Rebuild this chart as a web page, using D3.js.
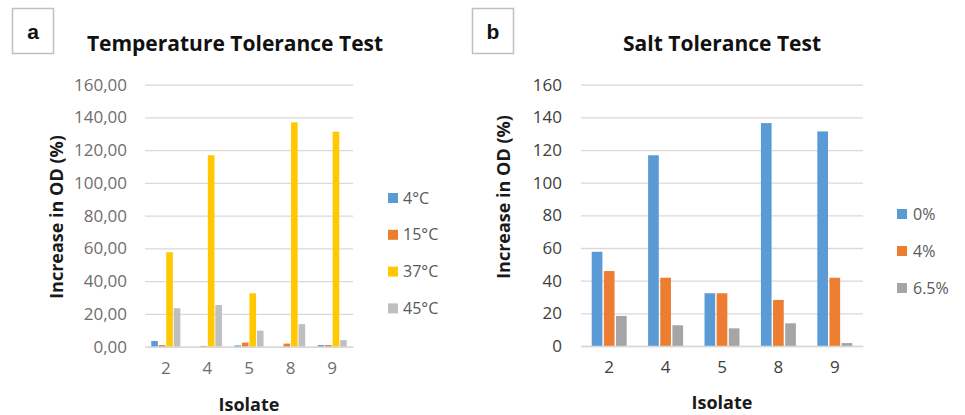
<!DOCTYPE html>
<html>
<head>
<meta charset="utf-8">
<script src="https://cdn.jsdelivr.net/npm/d3@7"></script>
<style>
  body { margin: 0; background: #fff; }
  svg { font-family: "Open Sans", sans-serif; }
</style>
</head>
<body>
<svg width="965" height="415"></svg>
<script>
// categories shared by both panels
let isolates = ["2", "4", "5", "8", "9"];

// panel a: temperature tolerance
let tempSeries = ["4°C", "15°C", "37°C", "45°C"];
let temp4 = [3.5, 0, 0.8, 0, 1];
let temp15 = [1, 0.5, 2.5, 1.9, 1];
let temp37 = [57.7, 116.9, 32.6, 137, 131.3];
let temp45 = [23.5, 25.5, 9.8, 13.8, 4];

// panel b: salt tolerance
let saltSeries = ["0%", "4%", "6.5%"];
let salt0 = [57.7, 116.8, 32.3, 136.5, 131.4];
let salt4 = [45.9, 41.8, 32.3, 28.2, 41.8];
let salt65 = [18.4, 12.7, 10.8, 13.9, 1.8];

let yTicks = [0, 20, 40, 60, 80, 100, 120, 140, 160];

let svg = d3.select("svg");

function drawPanel(opt) {
  let x = d3.scaleBand()
    .domain(isolates)
    .range([opt.left, opt.right])
    .paddingInner(opt.pad)
    .paddingOuter(opt.pad / 2);

  let xs = d3.scaleBand()
    .domain(opt.series)
    .range([0, x.bandwidth()])
    .paddingInner(0.12);

  let y = d3.scaleLinear()
    .domain([0, 160])
    .range([opt.bottom, opt.top]);

  let g = svg.append("g");

  // gridlines
  g.append("g")
    .call(d3.axisLeft(y).tickValues(yTicks).tickSize(-(opt.right - opt.left)).tickFormat(""))
    .attr("transform", "translate(" + opt.left + ",0)")
    .call(a => a.select(".domain").remove())
    .selectAll("line")
      .attr("stroke", "#d9d9d9")
      .attr("stroke-width", 1.3);

  // y tick labels
  g.append("g")
    .attr("transform", "translate(" + opt.left + ",0)")
    .call(d3.axisLeft(y).tickValues(yTicks).tickSize(0).tickPadding(opt.tickPad).tickFormat(opt.fmt))
    .call(a => a.select(".domain").remove())
    .selectAll("text")
      .attr("font-family", "Open Sans")
      .attr("font-size", 17)
      .attr("fill", opt.tickColor);

  // bars
  opt.values.forEach(function(vals, si) {
    g.append("g")
      .selectAll("rect")
      .data(vals)
      .enter().append("rect")
        .attr("x", (d, i) => x(isolates[i]) + xs(opt.series[si]))
        .attr("y", d => y(d))
        .attr("width", xs.bandwidth())
        .attr("height", d => y(0) - y(d))
        .attr("fill", opt.colors[si]);
  });

  // x axis
  g.append("g")
    .attr("transform", "translate(0," + opt.bottom + ")")
    .call(d3.axisBottom(x).tickSize(0).tickPadding(opt.xPad))
    .call(a => a.select(".domain").attr("stroke", "#d9d9d9").attr("stroke-width", 1.5))
    .selectAll("text")
      .attr("font-family", "Open Sans")
      .attr("font-size", 17)
      .attr("fill", opt.tickColor);

  // axis titles
  g.append("text")
    .attr("x", (opt.left + opt.right) / 2)
    .attr("y", opt.xTitleY)
    .attr("text-anchor", "middle")
    .attr("font-weight", "bold")
    .attr("font-size", 18)
    .attr("fill", "#1a1a1a")
    .text("Isolate");

  g.append("text")
    .attr("transform", "translate(" + opt.yTitleX + "," + opt.yTitleY + ") rotate(-90)")
    .attr("text-anchor", "middle")
    .attr("font-weight", "bold")
    .attr("font-size", 18)
    .attr("fill", "#1a1a1a")
    .text("Increase in OD (%)");

  // chart title
  g.append("text")
    .attr("x", opt.titleX)
    .attr("y", 51)
    .attr("text-anchor", "middle")
    .attr("font-weight", "bold")
    .attr("font-size", 21)
    .attr("fill", "#111")
    .text(opt.title);

  // panel letter box
  g.append("rect")
    .attr("x", opt.boxX)
    .attr("y", 8.5)
    .attr("width", 41)
    .attr("height", 45)
    .attr("fill", "none")
    .attr("stroke", "#bfbfbf")
    .attr("stroke-width", 1.5);
  g.append("text")
    .attr("x", opt.boxX + 20.5)
    .attr("y", 39)
    .attr("text-anchor", "middle")
    .attr("font-family", "Liberation Sans")
    .attr("font-weight", "bold")
    .attr("font-size", 21)
    .attr("fill", "#111")
    .text(opt.letter);

  // legend
  let leg = g.append("g")
    .selectAll("g")
    .data(opt.series)
    .enter().append("g")
      .attr("transform", (d, i) => "translate(" + opt.legX + "," + (opt.legY + i * opt.legStep) + ")");
  leg.append("rect")
    .attr("x", 0)
    .attr("y", -5)
    .attr("width", 10)
    .attr("height", 10)
    .attr("fill", (d, i) => opt.colors[i]);
  leg.append("text")
    .attr("x", opt.legGap)
    .attr("dy", "0.35em")
    .attr("font-size", 16)
    .attr("fill", "#595959")
    .text(d => d);
}

drawPanel({
  letter: "a",
  boxX: 12.5,
  title: "Temperature Tolerance Test",
  titleX: 235,
  series: tempSeries,
  values: [temp4, temp15, temp37, temp45],
  colors: ["#5b9bd5", "#ed7d31", "#ffc800", "#bfbfbf"],
  left: 145, right: 353, top: 84.7, bottom: 346.7,
  pad: 0.3,
  fmt: d => d3.format(".2f")(d).replace(".", ","),
  tickColor: "#6e6e6e",
  tickPad: 18,
  xPad: 15,
  xTitleY: 411,
  yTitleX: 63, yTitleY: 217,
  legX: 388, legY: 198, legStep: 36.8, legGap: 15
});

drawPanel({
  letter: "b",
  boxX: 472.5,
  title: "Salt Tolerance Test",
  titleX: 722,
  series: saltSeries,
  values: [salt0, salt4, salt65],
  colors: ["#5b9bd5", "#ed7d31", "#a5a5a5"],
  left: 581, right: 863, top: 84.7, bottom: 346,
  pad: 0.38,
  fmt: d3.format("d"),
  tickColor: "#404040",
  tickPad: 19,
  xPad: 15,
  xTitleY: 409,
  yTitleX: 510, yTitleY: 197,
  legX: 897, legY: 214, legStep: 37, legGap: 16
});
</script>
</body>
</html>
